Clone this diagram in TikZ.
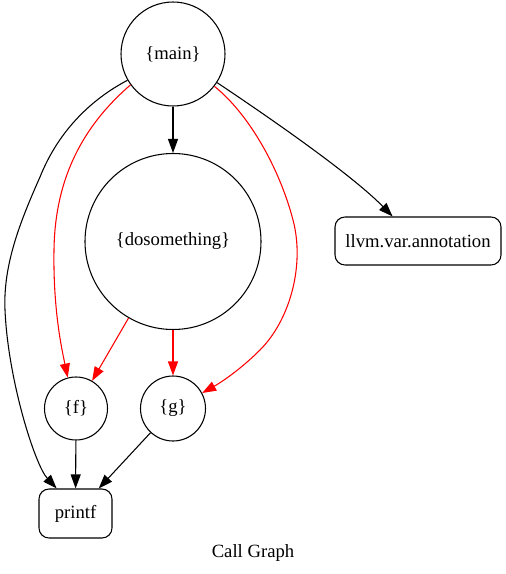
\documentclass[tikz,border=0pt]{standalone}
\usepackage{fontspec}
\setmainfont{Liberation Serif}
\usetikzlibrary{arrows.meta}
\begin{document}
\begin{tikzpicture}[x=0.75pt,y=-0.75pt,
  every node/.style={font=\fontsize{14}{16}\selectfont, inner sep=0pt},
  fn/.style={draw, circle, line width=0.8pt},
  ext/.style={draw, rectangle, rounded corners=7.5pt, line width=0.8pt},
  call/.style={line width=0.8pt, -{Triangle[length=10.5pt,width=7.5pt]}},
  redcall/.style={call, red}]
\useasboundingbox (0,0) rectangle (506,574);
\node[fn, minimum size=78pt] (main) at (173,54) {\{main\}};
\node[fn, minimum size=132pt] (dosomething) at (173,241.5) {\{dosomething\}};
\node[ext, minimum width=124.5pt, minimum height=36pt] (llvm) at (418,241) {llvm.var.annotation};
\node[fn, minimum size=47.25pt] (f) at (76,408.5) {\{f\}};
\node[fn, minimum size=48.75pt] (g) at (173,408.5) {\{g\}};
\node[ext, minimum width=54.75pt, minimum height=36.75pt] (printf) at (75.5,513.5) {printf};
\node (title) at (253,553) {Call Graph};

\draw[call] (main) -- (dosomething);
\draw[call] (main.327) .. controls (285,128) and (355,178) .. (llvm.136);
\draw[call] (main.210) .. controls (90,100) and (58,132) .. (40,177)
   .. controls (20,222) and (3,265) .. (5,310)
   .. controls (8,380) and (35,465) .. (printf.127);
\draw[redcall] (main.216) .. controls (90,120) and (55,170) .. (54,250)
   .. controls (53,310) and (62,350) .. (f.105);
\draw[redcall] (main.322) .. controls (250,115) and (280,170) .. (293,220)
   .. controls (305,265) and (290,320) .. (260,350)
   .. controls (240,370) and (220,383) .. (g.28);
\draw[redcall] (dosomething) -- (f);
\draw[redcall] (dosomething) -- (g);
\draw[call] (f) -- (printf);
\draw[call] (g) -- (printf);
\end{tikzpicture}
\end{document}
